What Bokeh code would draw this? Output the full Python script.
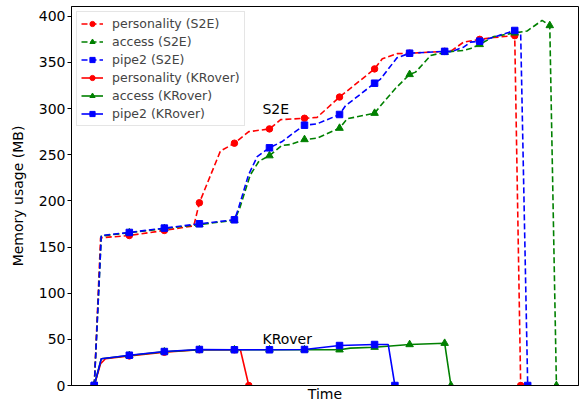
from bokeh.plotting import figure
from bokeh.models import Range1d, Label, Legend, LegendItem, FixedTicker
from bokeh.embed import file_html
from bokeh.resources import INLINE

# ---------------- data (time in arbitrary units, memory in MB) ----------------
t_pers_s2e = [0, 1.8, 10, 20, 28.4, 30, 36, 40, 44.1, 50, 53.2, 60, 63.6, 70, 80,
              82.2, 86.4, 90, 100, 102.1, 105.4, 110, 114, 120, 121.7]
m_pers_s2e = [0, 160, 162.5, 168, 173, 198, 254, 262.5, 275, 278, 288, 289.5, 290.5, 312.5, 343,
              354, 359.5, 360, 362, 363, 372, 375, 377, 379, 0]

t_acc_s2e = [0, 2, 10, 20, 30, 40, 41.5, 44.5, 47, 50, 53.5, 56, 60, 63.6, 70, 72.2, 80, 81.7,
             86, 90, 91.7, 96, 98.8, 100, 102.1, 105.4, 107.4, 110, 114, 120, 123.5, 127.8, 130, 131.9]
m_acc_s2e = [0, 162, 165.5, 170, 174.4, 179, 192, 228, 243, 249, 260, 261, 266.5, 268, 278.8, 289, 295, 303,
             322, 337, 339.5, 357.5, 360, 361, 362, 363, 365, 369.5, 378, 382, 384, 395.5, 390, 0]

t_pipe_s2e = [0, 2, 10, 20, 30, 40, 41, 44, 46.5, 50, 53.5, 57, 60, 63.6, 70, 71.7, 80, 81.7,
              86.4, 90, 100, 102.1, 105.4, 107.4, 110, 114, 120, 121.7, 123.7]
m_pipe_s2e = [0, 162.5, 165.8, 170.5, 175.2, 179.5, 190, 228, 248, 257.5, 264, 274, 282, 283.5, 293.6, 303, 327.5, 332,
              355, 360, 362, 362, 366.5, 372, 373, 377.4, 384.6, 381, 0]

t_pers_kr = [0, 1.8, 3.2, 10, 20, 30, 40, 41.7, 44.1]
m_pers_kr = [0, 23.5, 29, 32, 36, 38.7, 38.7, 38.7, 0]

t_acc_kr = [0, 2, 10, 20, 30, 40, 50, 60, 70, 73.1, 80, 90, 100, 101.8]
m_acc_kr = [0, 29, 32.5, 36.5, 38.7, 38.7, 38.7, 38.7, 38.7, 40.5, 41.5, 44.4, 45.8, 0]

t_pipe_kr = [0, 2, 10, 20, 30, 40, 50, 60, 70, 80, 83.9, 85.8]
m_pipe_kr = [0, 29, 32.8, 36.8, 39, 38.7, 38.7, 39, 43.3, 44.4, 44.4, 0]

labels = ["personality (S2E)", "access (S2E)", "pipe2 (S2E)",
          "personality (KRover)", "access (KRover)", "pipe2 (KRover)"]
y_ticks = [0, 50, 100, 150, 200, 250, 300, 350, 400]
annotations = [("S2E", 48, 300), ("KRover", 48, 50)]
x_title = "Time"
mark_step = 10

series = [
    (labels[0], t_pers_s2e, m_pers_s2e, "#ff0000", "circle", "6 3"),
    (labels[1], t_acc_s2e, m_acc_s2e, "#008000", "triangle", "6 3"),
    (labels[2], t_pipe_s2e, m_pipe_s2e, "#0000ff", "square", "6 3"),
    (labels[3], t_pers_kr, m_pers_kr, "#ff0000", "circle", "solid"),
    (labels[4], t_acc_kr, m_acc_kr, "#008000", "triangle", "solid"),
    (labels[5], t_pipe_kr, m_pipe_kr, "#0000ff", "square", "solid"),
]

FONT = "DejaVu Sans"
X0, X1 = -6.5, 138.2
XC = (X0 + X1) / 2

p = figure(width=582, height=404, output_backend="svg", toolbar_location=None,
           x_range=Range1d(X0, X1), y_range=Range1d(0, 410.6),
           min_border_left=71, min_border_right=4, min_border_top=6, min_border_bottom=19)
p.grid.visible = False
p.outline_line_color = "black"
p.outline_line_width = 1
p.background_fill_color = "white"
p.border_fill_color = "white"

# y axis
p.yaxis.ticker = FixedTicker(ticks=y_ticks)
p.yaxis.axis_label = "Memory usage (MB)"
p.yaxis.axis_label_text_font = FONT
p.yaxis.axis_label_text_font_size = "14px"
p.yaxis.axis_label_text_font_style = "normal"
p.yaxis.axis_label_text_color = "black"
p.yaxis.axis_label_standoff = 10
p.yaxis.major_label_text_font = FONT
p.yaxis.major_label_text_font_size = "14px"
p.yaxis.major_label_text_color = "black"
p.yaxis.major_label_standoff = 2
p.yaxis.major_tick_out = 4
p.yaxis.major_tick_in = 0
p.yaxis.major_tick_line_color = "black"
p.yaxis.minor_tick_line_color = None
p.yaxis.axis_line_color = "black"

# x axis: no ticks; the title "Time" is shown as the single (centred) tick label
p.xaxis.ticker = FixedTicker(ticks=[XC])
p.xaxis.major_label_overrides = {XC: x_title}
p.xaxis.major_label_text_font = FONT
p.xaxis.major_label_text_font_size = "14px"
p.xaxis.major_label_text_color = "black"
p.xaxis.major_label_standoff = 0
p.xaxis.major_tick_out = 0
p.xaxis.major_tick_in = 0
p.xaxis.minor_tick_out = 0
p.xaxis.minor_tick_in = 0
p.xaxis.major_tick_line_color = None
p.xaxis.minor_tick_line_color = None
p.xaxis.axis_line_color = "black"

items = []
for name, ts, ms, color, marker, dash in series:
    ln = p.line(ts, ms, line_color=color, line_width=1.6, line_dash=dash)
    n = len(ts)
    mx = [t for i, t in enumerate(ts) if (t % mark_step == 0) or i == n - 1]
    my = [m for i, (t, m) in enumerate(zip(ts, ms)) if (t % mark_step == 0) or i == n - 1]
    size = 7.5 if marker == "triangle" else 6.5
    sc = p.scatter(mx, my, marker=marker, size=size, fill_color=color,
                   line_color=color, line_width=1)
    items.append(LegendItem(label=name, renderers=[ln, sc]))

legend = Legend(items=items, location="top_left", margin=5, padding=4, spacing=3,
                glyph_width=22, glyph_height=13, label_height=13, label_standoff=9,
                label_text_font=FONT, label_text_font_size="12.5px",
                border_line_color="#cccccc", border_line_width=1,
                background_fill_color="white", background_fill_alpha=0.8)
p.add_layout(legend, "center")

for txt, x, y in annotations:
    p.add_layout(Label(x=x, y=y, text=txt, text_font=FONT, text_font_size="14px",
                       text_align="left", text_baseline="alphabetic", text_color="black"))

open("out.html", "w").write(file_html(p, INLINE))
